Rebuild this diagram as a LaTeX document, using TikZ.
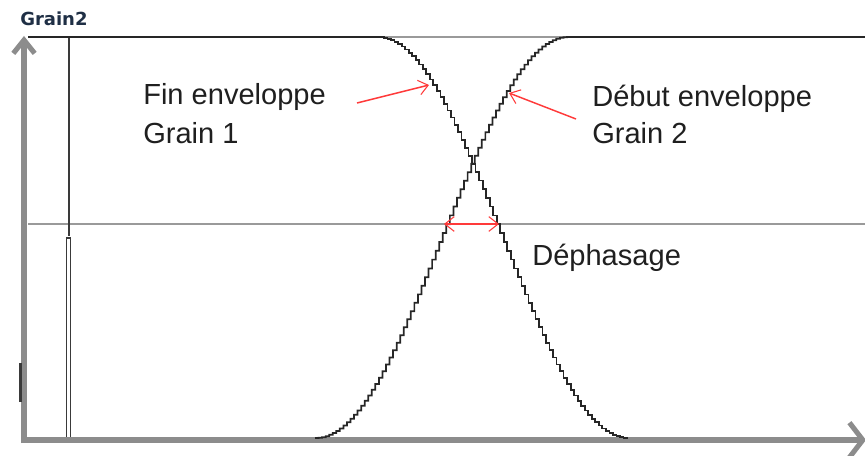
\documentclass[tikz,border=0pt]{standalone}
\usepackage{fontspec}
\setmainfont{Liberation Sans}
\newfontfamily\labfont{DejaVu Sans}
\usetikzlibrary{arrows.meta}
\definecolor{axisgray}{HTML}{8C8C8C}
\definecolor{linegray}{HTML}{9A9A9A}
\definecolor{darkline}{HTML}{3A3A3A}
\definecolor{arrowred}{HTML}{FF3A3A}
\definecolor{titlecol}{HTML}{1F2F45}
\begin{document}
\begin{tikzpicture}[x=0.75pt,y=-0.75pt,
  axis/.style={draw=axisgray, line width=3.8pt},
  guide/.style={draw=linegray, line width=1.2pt},
  envcurve/.style={draw=black!85, line width=1.3pt, line join=miter},
  redarrow/.style={draw=arrowred, line width=1.1pt, -{Straight Barb[length=7pt,width=11pt,line width=0.8pt]}},
  lbl/.style={font=\fontsize{21.8}{26}\selectfont, text=black!88, inner sep=0pt, anchor=base west},
]
\useasboundingbox (0,0) rectangle (865,456);

% guide lines
\draw[guide] (28,37) -- (865,37);
\draw[guide] (28,224) -- (865,224);

% vertical marker near the left
\coordinate (m1) at (69,37);
\coordinate (m2) at (69,236);
\draw[darkline, line width=1.3pt] (m1) -- (m2);
\draw[darkline, line width=1.1pt] (66.5,238) rectangle (70.5,439);

% axes
\coordinate (o) at (24,440);
\coordinate (ytop) at (24,36);
\coordinate (xend) at (866,440);
\draw[axis, -{Straight Barb[length=10pt,width=16pt,line width=3.8pt]}] (24,443) -- (ytop);
\draw[axis, -{Straight Barb[length=10pt,width=26pt,line width=3.8pt]}] (21,440) -- (xend);
\draw[darkline, line width=2pt] (20.5,363) -- (20.5,402);

% envelope curves
\draw[envcurve] (28,37) -- (377,37) -- plot[const plot, domain=377:627, samples=72]
  (\x,{37+200.5*(1-cos(0.72*(\x-377)))});
\draw[envcurve] plot[const plot, domain=315:567, samples=72]
  (\x,{438-200.5*(1-cos(0.714286*(\x-315)))}) -- (865,37);

% title
\node[font=\labfont\bfseries\fontsize{13.5}{15}\selectfont, text=titlecol, inner sep=0pt, anchor=base west] (title) at (20,26) {Grain2};

% labels
\node[lbl] (fin1) at (143,105) {Fin enveloppe};
\node[lbl] (fin2) at (143,144) {Grain 1};
\node[lbl] (deb1) at (592,107) {Début enveloppe};
\node[lbl] (deb2) at (592,144) {Grain 2};
\node[lbl] (deph) at (532,266) {Déphasage};

% red arrows
\coordinate (a1s) at (357,103);
\coordinate (a1e) at (429,85);
\coordinate (a2s) at (576,119);
\coordinate (a2e) at (509,93);
\coordinate (d1) at (444,224);
\coordinate (d2) at (499,224);
\draw[redarrow] (a1s) -- (a1e);
\draw[redarrow] (a2s) -- (a2e);
\draw[redarrow, {Straight Barb[length=7pt,width=11pt,line width=0.8pt]}-{Straight Barb[length=7pt,width=11pt,line width=0.8pt]}] (d1) -- (d2);
\end{tikzpicture}
\end{document}
